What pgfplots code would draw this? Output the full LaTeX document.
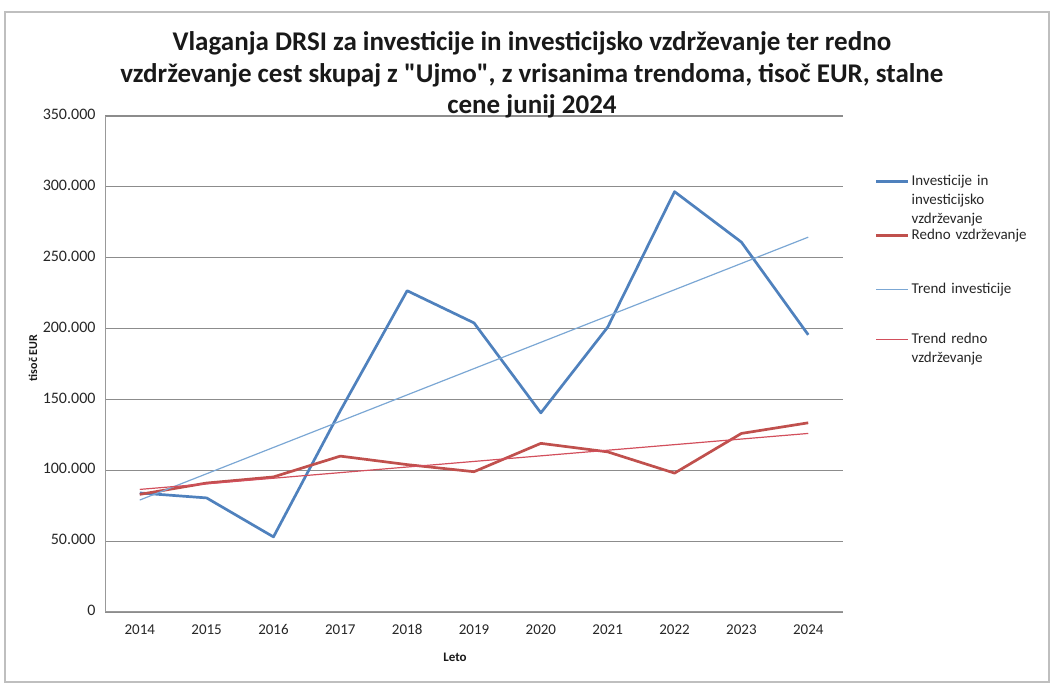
\documentclass[border=0pt]{standalone}
\usepackage{fontspec}
\setmainfont{Carlito}[Ligatures=TeXOff]
\usepackage{pgfplots}
\pgfplotsset{compat=1.18}
\definecolor{invblue}{HTML}{4F81BD}
\definecolor{redred}{HTML}{C0504D}
\definecolor{trendblue}{HTML}{7BA7D4}
\definecolor{trendred}{HTML}{D24F5C}
\definecolor{gridgray}{HTML}{8C8C8C}
\newcommand{\dep}[1]{\rule[-#1]{0pt}{#1}}
\begin{document}
\begin{tikzpicture}
\path[use as bounding box] (0pt,0pt) rectangle (1052pt,685pt);
\draw[black!25, line width=1.2pt] (5pt,3pt) rectangle (1049pt,673pt);
\begin{axis}[
  at={(105pt,73pt)}, anchor=south west,
  scale only axis, width=738pt, height=496pt,
  xmin=2013.48, xmax=2024.52, ymin=0, ymax=350000,
  xtick={2014,2015,2016,2017,2018,2019,2020,2021,2022,2023,2024},
  xticklabels={2014,2015,2016,2017,2018,2019,2020,2021,2022,2023,2024},
  ytick={0,50000,100000,150000,200000,250000,300000,350000},
  scaled y ticks=false,
  typeset ticklabels with strut,
  yticklabel style={font=\fontsize{16}{18}\selectfont, text=black!85, xshift=-6pt},
  yticklabel style={/pgf/number format/.cd, fixed, precision=0, 1000 sep={.}, assume math mode=true},
  xticklabel style={font=\fontsize{15}{17}\selectfont, text=black!85, yshift=-7pt},
  major tick length=0pt,
  axis x line*=bottom, axis y line*=left,
  axis line style={-, black!40, line width=1pt},
  ymajorgrids, grid style={gridgray, line width=1.1pt},
  legend image code/.code={\draw[#1] (0pt,4pt) -- (32pt,4pt);},
  legend style={at={(axis description cs:1,1)}, anchor=north west,
    xshift=32pt, yshift=-59pt, draw=none, fill=none, inner sep=0pt, outer sep=0pt,
    font=\fontsize{15}{19}\selectfont, text=black!85,
    row sep=0pt, column sep=0pt,
    nodes={text depth=, inner sep=0pt, inner xsep=2pt},
    cells={anchor=base west, text width=140pt, align=left}},
]
\addplot[invblue, line width=2.7pt, line join=round] coordinates {
 (2014,84000) (2015,80500) (2016,53000) (2017,142000) (2018,226700) (2019,204000)
 (2020,140500) (2021,201000) (2022,296600) (2023,261000) (2024,195600)};
\addlegendentry{{Investicije in\\investicijsko\\vzdrževanje\dep{6pt}}}
\addplot[redred, line width=2.7pt, line join=round] coordinates {
 (2014,83000) (2015,91000) (2016,95300) (2017,110000) (2018,104000) (2019,99000)
 (2020,119000) (2021,113000) (2022,98000) (2023,126000) (2024,133500)};
\addlegendentry{{Redno vzdrževanje\dep{43pt}}}
\addplot[trendblue, line width=1.2pt] coordinates {(2014,79000) (2024,264500)};
\addlegendentry{{Trend investicije\dep{40pt}}}
\addplot[trendred, line width=1.2pt] coordinates {(2014,86500) (2024,126000)};
\addlegendentry{{Trend redno\\vzdrževanje}}
\end{axis}
\node[align=center, font=\fontsize{27}{31.5}\selectfont\bfseries, text=black!90] at (532pt,610pt)
 {Vlaganja DRSI za investicije in investicijsko vzdrževanje ter redno\\
  vzdrževanje cest skupaj z "Ujmo", z vrisanima trendoma, tisoč EUR, stalne\\
  cene junij 2024};
\node[rotate=90, font=\fontsize{12}{14}\selectfont\bfseries, text=black!90] at (33pt,327pt) {tisoč EUR};
\node[font=\fontsize{13}{15}\selectfont\bfseries, text=black!90] at (455pt,28pt) {Leto};
\end{tikzpicture}
\end{document}
